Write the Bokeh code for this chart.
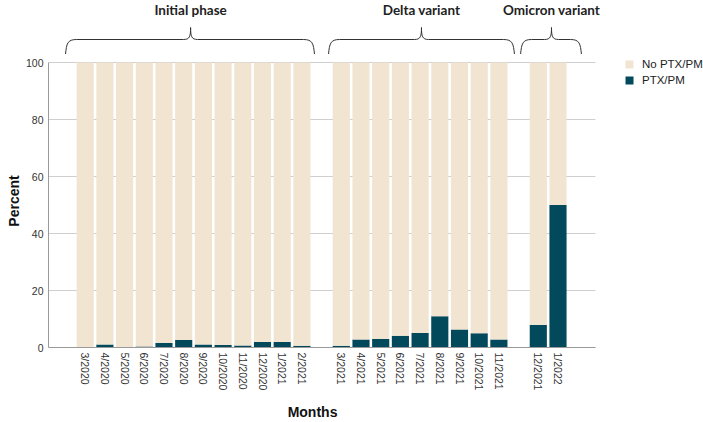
import math
from bokeh.plotting import figure
from bokeh.layouts import column
from bokeh.models import Range1d, FixedTicker, Legend, LegendItem, ColumnDataSource
from bokeh.embed import file_html
from bokeh.resources import INLINE
from bokeh.core.properties import value

# ---------------- data ----------------
months = ["3/2020", "4/2020", "5/2020", "6/2020", "7/2020", "8/2020", "9/2020",
          "10/2020", "11/2020", "12/2020", "1/2021", "2/2021",
          "3/2021", "4/2021", "5/2021", "6/2021", "7/2021", "8/2021", "9/2021",
          "10/2021", "11/2021",
          "12/2021", "1/2022"]
phase = (["Initial phase"] * 12 + ["Delta variant"] * 9 + ["Omicron variant"] * 2)
ptx_pm = [0.0, 1.05, 0.0, 0.35, 1.6, 2.6, 1.05, 0.9, 0.7, 1.9, 1.9, 0.6,
          0.6, 2.8, 3.0, 4.1, 5.1, 11.0, 6.3, 5.0, 2.8,
          7.9, 50.0]
phase_names = ["Initial phase", "Delta variant", "Omicron variant"]
y_ticks = [0, 20, 40, 60, 80, 100]
x_title = "Months"
y_title = "Percent"

# brace layout (x in slot units)
brace_left = [-1.0, 12.35, 22.1]
brace_right = [11.64, 21.79, 25.19]
brace_tip = [5.35, 17.07, 23.67]
x_title_pos = 11.54

TEAL = "#03495C"
BEIGE = "#F1E4D0"

# slot positions with one empty slot between phases
xpos = []
k = 0
prev = None
for ph in phase:
    if prev is not None and ph != prev:
        k += 1
    xpos.append(k)
    k += 1
    prev = ph

no_ptx = [100 - v for v in ptx_pm]
src = ColumnDataSource(dict(x=xpos, ptx=ptx_pm, noptx=no_ptx, month=months))

ML = 48                 # left border (page x of the value axis)
FW = 703 - ML           # frame width
TOP_H = 54              # brace strip (page y 0..54)
Y0_PAGE = 347           # page y of value 0
Y100_PAGE = 62          # page y of value 100
FH = Y0_PAGE - TOP_H
MB = 47
BOT_H = 26
DX = 19.7
x0r = -(84.7 - ML) / DX
x_axis_end = 25.9
x1r = x0r + FW / DX
xr = Range1d(x0r, x1r)
y1r = 100 * FH / (Y0_PAGE - Y100_PAGE)

# ---------------- main plot ----------------
p = figure(frame_width=FW, frame_height=FH, x_range=xr, y_range=Range1d(0, y1r),
           output_backend="svg", toolbar_location=None,
           min_border_left=ML, min_border_right=0, min_border_top=0, min_border_bottom=MB)
p.outline_line_color = None
p.background_fill_color = "white"
p.border_fill_color = "white"

p.xgrid.visible = False
p.ygrid.visible = False
p.segment(x0=[x0r] * len(y_ticks), x1=[x_axis_end] * len(y_ticks), y0=y_ticks, y1=y_ticks,
          line_color="#cfcfcf", line_width=1)

rs = p.vbar_stack(["ptx", "noptx"], x="x", width=0.87, source=src,
                  fill_color=[TEAL, BEIGE], line_color=None)

p.yaxis.ticker = FixedTicker(ticks=y_ticks)
p.yaxis.bounds = (0, 100)
p.xaxis.bounds = (x0r, x_axis_end)

for ax in (p.xaxis, p.yaxis):
    ax.major_tick_line_color = None
    ax.minor_tick_line_color = None
    ax.major_tick_out = 0
    ax.major_tick_in = 0
    ax.axis_line_color = "#9a9a9a"
    ax.major_label_text_font = "Liberation Sans"
    ax.major_label_text_font_size = "10.5px"
    ax.major_label_text_color = "#333333"
    ax.axis_label_text_font = "Liberation Sans"
    ax.axis_label_text_font_style = "bold"
    ax.axis_label_text_font_size = "14px"
    ax.axis_label_text_color = "#111111"

p.xaxis.ticker = FixedTicker(ticks=xpos)
p.xaxis.major_label_overrides = {x: m for x, m in zip(xpos, months)}
p.xaxis.major_label_orientation = -math.pi / 2
p.xaxis.major_label_standoff = 5
p.yaxis.axis_label = y_title
p.yaxis.major_label_standoff = 5
p.yaxis.axis_label_standoff = 1

legend = Legend(items=[LegendItem(label="No PTX/PM", renderers=[rs[1]]),
                       LegendItem(label="PTX/PM", renderers=[rs[0]])],
                location=(FW - 79, FH - 32), orientation="vertical",
                glyph_width=10, glyph_height=10, label_standoff=8, spacing=4,
                padding=0, margin=0, border_line_color=None,
                background_fill_alpha=0,
                label_text_font="Liberation Sans", label_text_font_size="11.5px",
                label_text_color="#222222", label_height=10)
p.add_layout(legend, "center")

# ---------------- braces (top strip, y in page pixels, flipped) ----------------
top = figure(frame_width=FW, frame_height=TOP_H, x_range=xr, y_range=Range1d(TOP_H, 0),
             x_axis_type=None, y_axis_type=None,
             output_backend="svg", toolbar_location=None,
             min_border_left=ML, min_border_right=0, min_border_top=0, min_border_bottom=0)
top.outline_line_color = None
top.grid.visible = False

yE, yH, yT = 54, 39, 27
bx0, by0, bx1, by1, bcx0, bcy0, bcx1, bcy1 = [], [], [], [], [], [], [], []
sx0, sy0, sx1, sy1 = [], [], [], []
for xl, xrt, xt in zip(brace_left, brace_right, brace_tip):
    r = 11 / DX
    t = 7 / DX
    for side in (1, -1):
        xe = xl if side == 1 else xrt
        bx0.append(xe); by0.append(yE)
        bx1.append(xe + side * r); by1.append(yH)
        bcx0.append(xe + side * 1 / DX); bcy0.append(yH + 4)
        bcx1.append(xe + side * 2 / DX); bcy1.append(yH)
        bx0.append(xt - side * t); by0.append(yH)
        bx1.append(xt); by1.append(yT)
        bcx0.append(xt - side * 1 / DX); bcy0.append(yH)
        bcx1.append(xt); bcy1.append(yH - 3)
    sx0 += [xl + r, xt + t]
    sx1 += [xt - t, xrt - r]
    sy0 += [yH, yH]
    sy1 += [yH, yH]

top.bezier(x0=bx0, y0=by0, x1=bx1, y1=by1, cx0=bcx0, cy0=bcy0, cx1=bcx1, cy1=bcy1,
           line_color="#333333", line_width=1)
top.segment(x0=sx0, y0=sy0, x1=sx1, y1=sy1, line_color="#333333", line_width=1)
top.text(x=brace_tip, y=[9] * 3, text=phase_names, text_align="center",
         text_baseline="middle", text_font=value("Lato"), text_font_style="bold",
         text_font_size="13.5px", text_color="#222222")

# ---------------- x-axis title strip ----------------
bot = figure(frame_width=FW, frame_height=BOT_H, x_range=xr, y_range=Range1d(BOT_H, 0),
             x_axis_type=None, y_axis_type=None,
             output_backend="svg", toolbar_location=None,
             min_border_left=ML, min_border_right=0, min_border_top=0, min_border_bottom=0)
bot.outline_line_color = None
bot.grid.visible = False
bot.text(x=[x_title_pos], y=[17], text=[x_title], text_align="center",
         text_baseline="middle", text_font=value("Liberation Sans"), text_font_style="bold",
         text_font_size="14px", text_color="#111111")

layout = column(top, p, bot, spacing=0)
open("out.html", "w").write(file_html(layout, INLINE))
